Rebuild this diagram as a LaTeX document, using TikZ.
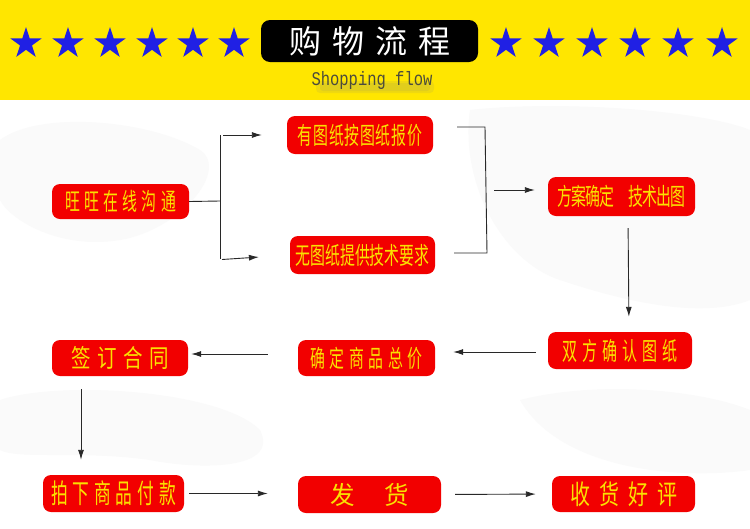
\documentclass[tikz,border=0pt]{standalone}
\usepackage{fontspec}
\usetikzlibrary{shapes.geometric,arrows.meta}
\newfontfamily\cjk{Noto Sans CJK SC}
\newfontfamily\monofam{Liberation Mono}
\definecolor{bandyellow}{RGB}{255,230,0}
\definecolor{txtyellow}{RGB}{250,225,0}
\definecolor{boxred}{RGB}{242,0,0}
\definecolor{starblue}{RGB}{32,32,228}
\definecolor{linegray}{RGB}{40,40,40}
\definecolor{subgray}{RGB}{75,75,60}
\definecolor{patch}{RGB}{250,250,250}
\newlength\cjpitch
\def\cjloop#1{\ifx#1\relax\else\makebox[\cjpitch]{\scalebox{\cjsx}[1]{#1}}\expandafter\cjloop\fi}
\newcommand\cjt[4]{\cjk\fontsize{#1}{#1}\selectfont\def\cjsx{#2}\setlength\cjpitch{#3pt}\cjloop#4\relax}
\tikzset{
  redbox/.style={fill=boxred, rounded corners=8pt, inner sep=0pt, text=txtyellow, anchor=center},
  bstar/.style={star, star points=5, star point ratio=2.618, fill=starblue, inner sep=0pt, minimum size=33pt},
  plainline/.style={draw=linegray, line width=0.9pt},
  arr/.style={plainline, -{Latex[length=10pt,width=6pt]}}
}
\begin{document}
\begin{tikzpicture}[x=1pt,y=-1pt]
\useasboundingbox (0,0) rectangle (750,528);
\fill[white] (0,0) rectangle (750,528);
% faint background patches
\fill[patch] (0,140) .. controls (40,110) and (150,120) .. (200,150) .. controls (230,170) and (180,230) .. (120,240) .. controls (60,250) and (10,220) .. (0,200) -- cycle;
\fill[patch] (470,110) .. controls (560,100) and (700,110) .. (750,130) -- (750,300) .. controls (700,320) and (620,300) .. (560,280) .. controls (500,260) and (460,180) .. (470,110) -- cycle;
\fill[patch] (0,400) .. controls (60,380) and (220,390) .. (260,430) .. controls (280,470) and (200,470) .. (150,460) .. controls (80,450) and (20,460) .. (0,450) -- cycle;
\fill[patch] (520,400) .. controls (600,380) and (700,390) .. (750,410) -- (750,470) .. controls (680,480) and (560,470) .. (520,400) -- cycle;
\fill[bandyellow] (0,0) rectangle (750,100);
% stars
\foreach \i/\x in {1/26,2/68,3/110,4/152,5/193,6/234,7/506,8/549,9/592,10/635,11/678,12/722}
  \node[bstar] (s\i) at (\x,43.5) {};
% title
\node[fill=black, rounded corners=9pt, inner sep=0pt, minimum width=217pt, minimum height=42pt, text=white] (title) at (369.5,41) {\cjt{32}{1}{43}{购物流程}};
\fill[gray, opacity=0.12, rounded corners=4pt] (316,81) rectangle (434,93);
\fill[gray, opacity=0.12, rounded corners=3pt] (320,83) rectangle (430,91);
\node[text=subgray, inner sep=0pt] (sub) at (372,80) {\scalebox{1}[1.25]{\monofam\fontsize{15.5}{15.5}\selectfont Shopping flow}};
% boxes
\node[redbox, minimum width=137pt, minimum height=35pt] (wang) at (120.5,201.5) {\cjt{24}{0.62}{19.2}{旺旺在线沟通}};
\node[redbox, minimum width=146pt, minimum height=38pt] (have) at (360,135) {\cjt{24}{0.62}{15.6}{有图纸按图纸报价}};
\node[redbox, minimum width=145pt, minimum height=38pt] (none) at (362.5,255) {\cjt{24}{0.62}{14.9}{无图纸提供技术要求}};
\node[redbox, minimum width=147pt, minimum height=39pt] (plan) at (621.5,196.5) {\cjt{24}{0.62}{14.1}{方案确定~技术出图}};
\node[redbox, minimum width=144pt, minimum height=37pt] (both) at (620,350.5) {\cjt{25}{0.6}{20}{双方确认图纸}};
\node[redbox, minimum width=136pt, minimum height=36pt] (sign) at (120,358) {\cjt{25}{0.78}{26}{签订合同}};
\node[redbox, minimum width=137pt, minimum height=36pt] (price) at (366.5,358) {\cjt{24}{0.62}{19.4}{确定商品总价}};
\node[redbox, minimum width=141pt, minimum height=37pt] (pay) at (113.5,493.5) {\cjt{27}{0.62}{21.6}{拍下商品付款}};
\node[redbox, minimum width=143pt, minimum height=37pt] (ship) at (369.5,494.5) {\cjt{25}{0.98}{54}{发货}};
\node[redbox, minimum width=143pt, minimum height=36pt] (recv) at (623.5,494) {\cjt{27}{0.74}{29}{收货好评}};
% coordinates
\coordinate (j1) at (220,201);
\coordinate (jt) at (220,135);
\coordinate (jb) at (220,259);
\coordinate (a1) at (223,135);
\coordinate (a2) at (222,259.5);
\coordinate (r2) at (485,127);
\coordinate (r3) at (487,253);
\coordinate (m1) at (494,190);
% connectors
\draw[plainline] (wang.east) -- (j1);
\draw[plainline] (jt) -- (jb);
\draw[arr, shorten >=25pt] (a1) -- (have.west);
\draw[arr, shorten >=31pt] (a2) -- (none.west);
\draw[plainline, shorten <=24pt, shorten >=19pt] ([yshift=8pt]have.east) -- (r2) -- (r3) -- ([yshift=2pt]none.east);
\draw[arr, shorten >=13pt] (m1) -- (m1 -| plan.west);
\draw[arr, shorten <=12pt, shorten >=15pt] ([xshift=6.5pt]plan.south) -- ([xshift=9pt]both.north);
\draw[arr, shorten <=12pt, shorten >=18pt] ([yshift=-1.5pt]both.west) -- ([yshift=-1.5pt]both.west -| price.east);
\draw[arr, shorten <=30pt, shorten >=3pt] ([yshift=4pt]price.west) -- ([yshift=4pt]price.west -| sign.east);
\draw[arr, shorten <=13pt, shorten >=15pt] ([xshift=-39pt]sign.south) -- ([xshift=-39pt]sign.south |- pay.north);
\draw[arr, shorten <=5pt, shorten >=30pt] (pay.east) -- (pay.east -| ship.west);
\draw[arr, shorten <=14pt, shorten >=16pt] (ship.east) -- (recv.west);
\end{tikzpicture}
\end{document}
